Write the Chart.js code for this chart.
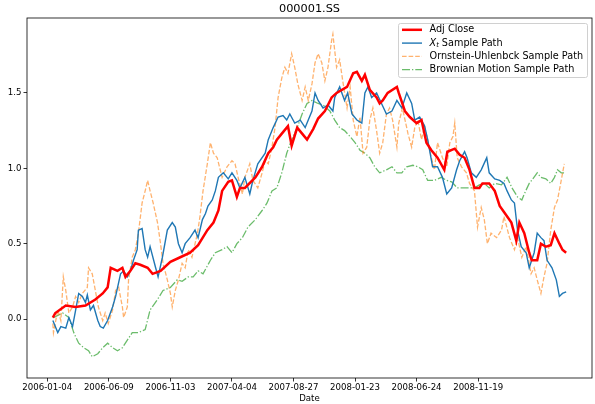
<!DOCTYPE html>
<html>
<head>
<meta charset="utf-8">
<script src="https://cdn.jsdelivr.net/npm/chart.js@4/dist/chart.umd.min.js"></script>
<style>
  html, body { margin: 0; padding: 0; background: #fff; }
  #wrap { width: 595px; height: 404px; }
</style>
</head>
<body>
<div id="wrap"><canvas id="chart" width="595" height="404"></canvas></div>
<script>
// x axis is the trading-day index, labelled every 100 days
const chartTitle = "000001.SS";
const tickIndex = [0, 100, 200, 300, 400, 500, 600, 700];
const tickLabels = ["2006-01-04", "2006-06-09", "2006-11-03", "2007-04-04",
                    "2007-08-27", "2008-01-23", "2008-06-24", "2008-11-19"];
const yTicks = [0, 0.5, 1.0, 1.5];

// Adj Close (normalised log price)
const adjCloseIdx = [9,13,30,46,62,78,90,98,103,114,122,127,135,143,151,163,171,184,200,216,
  232,245,260,270,278,284,294,300,308,313,321,338,349,359,367,373,381,391,397,406,
  414,422,432,440,451,462,470,487,497,503,511,516,524,535,540,545,553,568,571,581,
  589,600,608,616,624,634,645,650,662,670,678,686,694,702,707,718,727,735,742,754,
  762,767,775,783,787,796,802,810,818,824,832,837,843];
const adjCloseVal = [0.01,0.04,0.09,0.08,0.09,0.13,0.17,0.21,0.34,0.32,0.34,0.28,0.32,0.37,0.36,0.34,0.30,0.32,0.38,0.41,
  0.44,0.49,0.59,0.64,0.72,0.85,0.91,0.92,0.81,0.87,0.87,0.94,1.01,1.10,1.14,1.19,1.23,1.28,1.15,1.27,
  1.23,1.19,1.26,1.33,1.38,1.47,1.50,1.54,1.63,1.64,1.58,1.62,1.52,1.47,1.43,1.45,1.50,1.54,1.50,1.38,
  1.34,1.30,1.32,1.17,1.12,1.07,0.99,1.11,1.13,1.09,1.07,0.99,0.87,0.87,0.90,0.90,0.85,0.75,0.71,0.64,
  0.52,0.64,0.57,0.44,0.39,0.39,0.50,0.48,0.49,0.57,0.50,0.46,0.44];

// X_t sample path
const xtIdx = [9,17,22,30,35,41,46,51,57,62,65,70,75,82,86,91,98,106,111,119,
  124,130,135,140,146,148,154,159,163,167,176,180,187,195,203,208,213,219,224,232,
  240,245,252,257,261,268,273,278,286,294,300,308,313,321,329,334,342,354,359,367,
  375,383,389,394,402,411,419,424,430,435,440,448,456,464,467,475,483,488,495,503,
  511,516,521,527,535,543,551,560,568,576,584,592,597,605,613,618,626,634,642,649,
  657,665,670,678,682,689,697,705,714,718,727,735,742,747,754,759,764,770,778,783,
  791,796,802,807,812,820,827,832,837,843];
const xtVal = [-0.01,-0.09,-0.05,-0.06,0.01,-0.05,0.06,0.17,0.15,0.11,0.16,0.06,0.09,-0.01,-0.05,-0.06,-0.01,0.08,0.15,0.30,
  0.32,0.28,0.32,0.39,0.46,0.59,0.60,0.46,0.41,0.48,0.34,0.28,0.41,0.59,0.64,0.61,0.50,0.44,0.50,0.54,
  0.59,0.54,0.66,0.70,0.75,0.79,0.85,0.94,0.97,0.93,0.97,0.92,0.87,0.94,0.83,0.92,1.03,1.10,1.19,1.27,
  1.34,1.35,1.32,1.36,1.30,1.32,1.27,1.32,1.38,1.50,1.45,1.40,1.42,1.38,1.47,1.54,1.45,1.50,1.36,1.32,
  1.30,1.50,1.54,1.47,1.50,1.43,1.36,1.38,1.45,1.40,1.50,1.43,1.32,1.34,1.28,1.19,1.01,1.01,0.94,0.83,
  0.87,0.99,1.05,1.11,1.07,0.97,0.94,0.99,1.07,0.97,0.93,0.92,0.90,0.85,0.79,0.77,0.59,0.48,0.44,0.34,
  0.44,0.57,0.54,0.52,0.39,0.34,0.26,0.15,0.17,0.18];

// Ornstein-Uhlenbeck sample path
const ouIdx = [9,10,17,22,26,30,35,41,46,51,57,65,67,73,78,83,90,94,99,106,
  111,116,122,124,130,132,138,143,148,154,159,163,167,172,179,184,188,195,200,203,
  208,213,219,224,229,235,244,248,253,260,265,270,276,284,292,300,305,310,317,321,
  329,334,342,349,354,359,365,370,375,381,386,391,397,402,407,414,419,424,430,435,
  440,446,451,456,462,464,470,475,480,487,492,497,503,508,513,519,524,529,535,540,
  545,551,556,561,568,571,577,586,592,597,602,608,613,618,624,629,634,642,649,654,
  659,662,666,673,681,686,694,699,705,710,715,721,730,738,742,751,759,764,771,778,
  786,791,796,802,807,812,818,824,829,835,840];
const ouVal = [-0.03,-0.09,0.06,-0.01,0.28,0.19,0.04,0.08,0.15,0.11,0.17,0.21,0.34,0.30,0.19,0.08,-0.01,0.04,-0.03,0.06,
  0.19,0.21,0.08,0.01,0.08,0.26,0.41,0.46,0.57,0.77,0.85,0.92,0.85,0.77,0.64,0.50,0.37,0.26,0.17,0.08,
  0.19,0.26,0.37,0.34,0.46,0.41,0.57,0.68,0.85,1.03,1.17,1.10,1.07,0.94,1.01,1.05,1.03,0.94,0.83,0.94,
  1.03,0.92,0.87,0.97,1.05,1.03,1.14,1.27,1.47,1.60,1.67,1.63,1.76,1.67,1.56,1.45,1.54,1.45,1.56,1.70,
  1.76,1.70,1.58,1.67,1.85,1.89,1.67,1.72,1.58,1.40,1.54,1.32,1.21,1.34,1.10,1.14,1.32,1.40,1.25,1.10,
  1.17,1.36,1.40,1.32,1.14,1.30,1.40,1.23,1.14,1.27,1.32,1.19,1.28,1.19,1.07,0.99,1.17,1.07,1.01,1.17,
  1.21,1.30,1.07,1.01,0.97,0.90,0.85,0.61,0.74,0.66,0.50,0.57,0.54,0.59,0.68,0.54,0.46,0.54,0.41,0.48,
  0.30,0.34,0.26,0.17,0.28,0.37,0.59,0.74,0.79,0.92,1.03];

// Brownian motion sample path
const bmIdx = [10,25,35,43,51,59,67,73,82,90,98,106,114,122,130,138,148,159,167,179,
  188,200,211,219,229,237,245,253,265,273,284,292,300,308,317,326,338,349,357,365,
  373,381,389,397,406,414,422,430,440,448,459,467,475,483,492,500,508,516,524,532,
  540,551,560,568,576,584,594,602,610,618,629,640,649,657,666,675,686,694,702,710,
  718,727,738,747,755,764,771,775,783,787,796,802,810,818,824,829,835,840];
const bmVal = [0.01,0.04,0.01,-0.09,-0.16,-0.19,-0.21,-0.25,-0.23,-0.19,-0.16,-0.19,-0.21,-0.19,-0.14,-0.09,-0.09,-0.07,0.06,0.13,
  0.19,0.21,0.26,0.25,0.28,0.28,0.32,0.30,0.39,0.44,0.46,0.48,0.44,0.50,0.54,0.61,0.66,0.72,0.77,0.85,
  0.87,0.97,1.10,1.19,1.27,1.36,1.43,1.45,1.43,1.42,1.38,1.32,1.27,1.25,1.21,1.17,1.12,1.10,1.07,1.01,
  0.97,0.99,1.01,0.97,0.97,1.01,1.02,1.01,0.99,0.92,0.92,0.94,0.92,0.91,0.87,0.87,0.87,0.87,0.89,0.90,
  0.87,0.90,0.89,0.94,0.87,0.81,0.79,0.83,0.90,0.92,0.97,0.94,0.93,0.90,0.94,0.99,0.97,0.97];

const toPoints = (xs, ys) => xs.map((x, i) => ({ x: x, y: ys[i] }));

const FONT = "DejaVu Sans";
Chart.defaults.font.family = FONT;
Chart.defaults.color = "#000";

// black box around the axes + title centred over the axes (matplotlib style)
const framePlugin = {
  id: "frame",
  afterDatasetsDraw(chart) {
    const { ctx, chartArea: a } = chart;
    ctx.save();
    ctx.strokeStyle = "#000";
    ctx.lineWidth = 0.8;
    ctx.strokeRect(a.left, a.top, a.right - a.left, a.bottom - a.top);
    ctx.font = "11.3px '" + FONT + "'";
    ctx.fillStyle = "#000";
    ctx.textAlign = "center";
    ctx.textBaseline = "middle";
    ctx.fillText(chartTitle, (a.left + a.right) / 2, a.top - 9);
    ctx.restore();
  },
};

// draws "X_t ..." with an italic X and a subscript t
const LEG_SIZE = 9.7;
function drawLabel(ctx, text, x, y) {
  const m = text.match(/^(\w)_(\w)(.*)$/);
  ctx.font = LEG_SIZE + "px '" + FONT + "'";
  if (!m) {
    ctx.fillText(text, x, y);
    return;
  }
  ctx.font = "italic " + LEG_SIZE + "px '" + FONT + "'";
  ctx.fillText(m[1], x, y);
  x += ctx.measureText(m[1]).width;
  ctx.font = "italic " + (LEG_SIZE * 0.7) + "px '" + FONT + "'";
  ctx.fillText(m[2], x, y + 2.5);
  x += ctx.measureText(m[2]).width;
  ctx.font = LEG_SIZE + "px '" + FONT + "'";
  ctx.fillText(m[3], x, y);
}

// matplotlib style legend in the upper right corner
const legendPlugin = {
  id: "boxLegend",
  afterDraw(chart) {
    const { ctx, chartArea: a } = chart;
    const w = 189, h = 54;
    const x0 = a.right - 5 - w, y0 = a.top + 5;
    ctx.save();
    ctx.beginPath();
    ctx.roundRect(x0 + 0.5, y0 + 0.5, w, h, 2);
    ctx.fillStyle = "rgba(255,255,255,0.8)";
    ctx.fill();
    ctx.strokeStyle = "#d0d0d0";
    ctx.lineWidth = 1;
    ctx.stroke();
    ctx.textBaseline = "middle";
    ctx.fillStyle = "#000";
    chart.data.datasets.forEach((ds, i) => {
      const y = y0 + 6.8 + i * 13.3;
      ctx.beginPath();
      ctx.setLineDash(ds.borderDash || []);
      ctx.strokeStyle = ds.borderColor;
      ctx.lineWidth = ds.borderWidth;
      ctx.moveTo(x0 + 4, y);
      ctx.lineTo(x0 + 24, y);
      ctx.stroke();
      ctx.setLineDash([]);
      drawLabel(ctx, ds.label, x0 + 31.5, y);
    });
    ctx.restore();
  },
};

const tickFont = { family: FONT, size: 8.6 };

new Chart(document.getElementById("chart"), {
  type: "line",
  data: {
    datasets: [
      {
        label: "Adj Close",
        data: toPoints(adjCloseIdx, adjCloseVal),
        borderColor: "#ff0000",
        borderWidth: 2.5,
        order: 0,
      },
      {
        label: "X_t Sample Path",
        data: toPoints(xtIdx, xtVal),
        borderColor: "#1f77b4",
        borderWidth: 1.4,
        order: 1,
      },
      {
        label: "Ornstein-Uhlenbck Sample Path",
        data: toPoints(ouIdx, ouVal),
        borderColor: "rgba(255,127,14,0.6)",
        borderWidth: 1.3,
        borderDash: [4.6, 2],
        order: 2,
      },
      {
        label: "Brownian Motion Sample Path",
        data: toPoints(bmIdx, bmVal),
        borderColor: "rgba(44,160,44,0.7)",
        borderWidth: 1.3,
        borderDash: [8, 2, 1.3, 2],
        order: 3,
      },
    ],
  },
  options: {
    responsive: false,
    animation: false,
    elements: { point: { radius: 0 }, line: { tension: 0 } },
    layout: { padding: { left: 0, right: 3, top: 18, bottom: 0 } },
    plugins: {
      legend: { display: false },
      tooltip: { enabled: false },
      title: { display: false },
    },
    scales: {
      x: {
        type: "linear",
        min: -33,
        max: 885,
        afterBuildTicks: (s) => { s.ticks = tickIndex.map((v) => ({ value: v })); },
        afterFit: (s) => { s.height = 26; },
        ticks: {
          autoSkip: false,
          maxRotation: 0,
          padding: 1.5,
          font: tickFont,
          color: "#000",
          callback: (v) => tickLabels[tickIndex.indexOf(v)],
        },
        grid: { drawOnChartArea: false, tickLength: 3.5, tickColor: "#000", tickWidth: 0.8 },
        border: { display: false },
        title: { display: true, text: "Date", font: tickFont, color: "#000", padding: 0 },
      },
      y: {
        type: "linear",
        min: -0.391,
        max: 1.997,
        afterBuildTicks: (s) => { s.ticks = yTicks.map((v) => ({ value: v })); },
        afterFit: (s) => { s.width = 27; },
        ticks: {
          padding: 2,
          font: tickFont,
          color: "#000",
          callback: (v) => v.toFixed(1),
        },
        grid: { drawOnChartArea: false, tickLength: 3.5, tickColor: "#000", tickWidth: 0.8 },
        border: { display: false },
      },
    },
  },
  plugins: [framePlugin, legendPlugin],
});
</script>
</body>
</html>
